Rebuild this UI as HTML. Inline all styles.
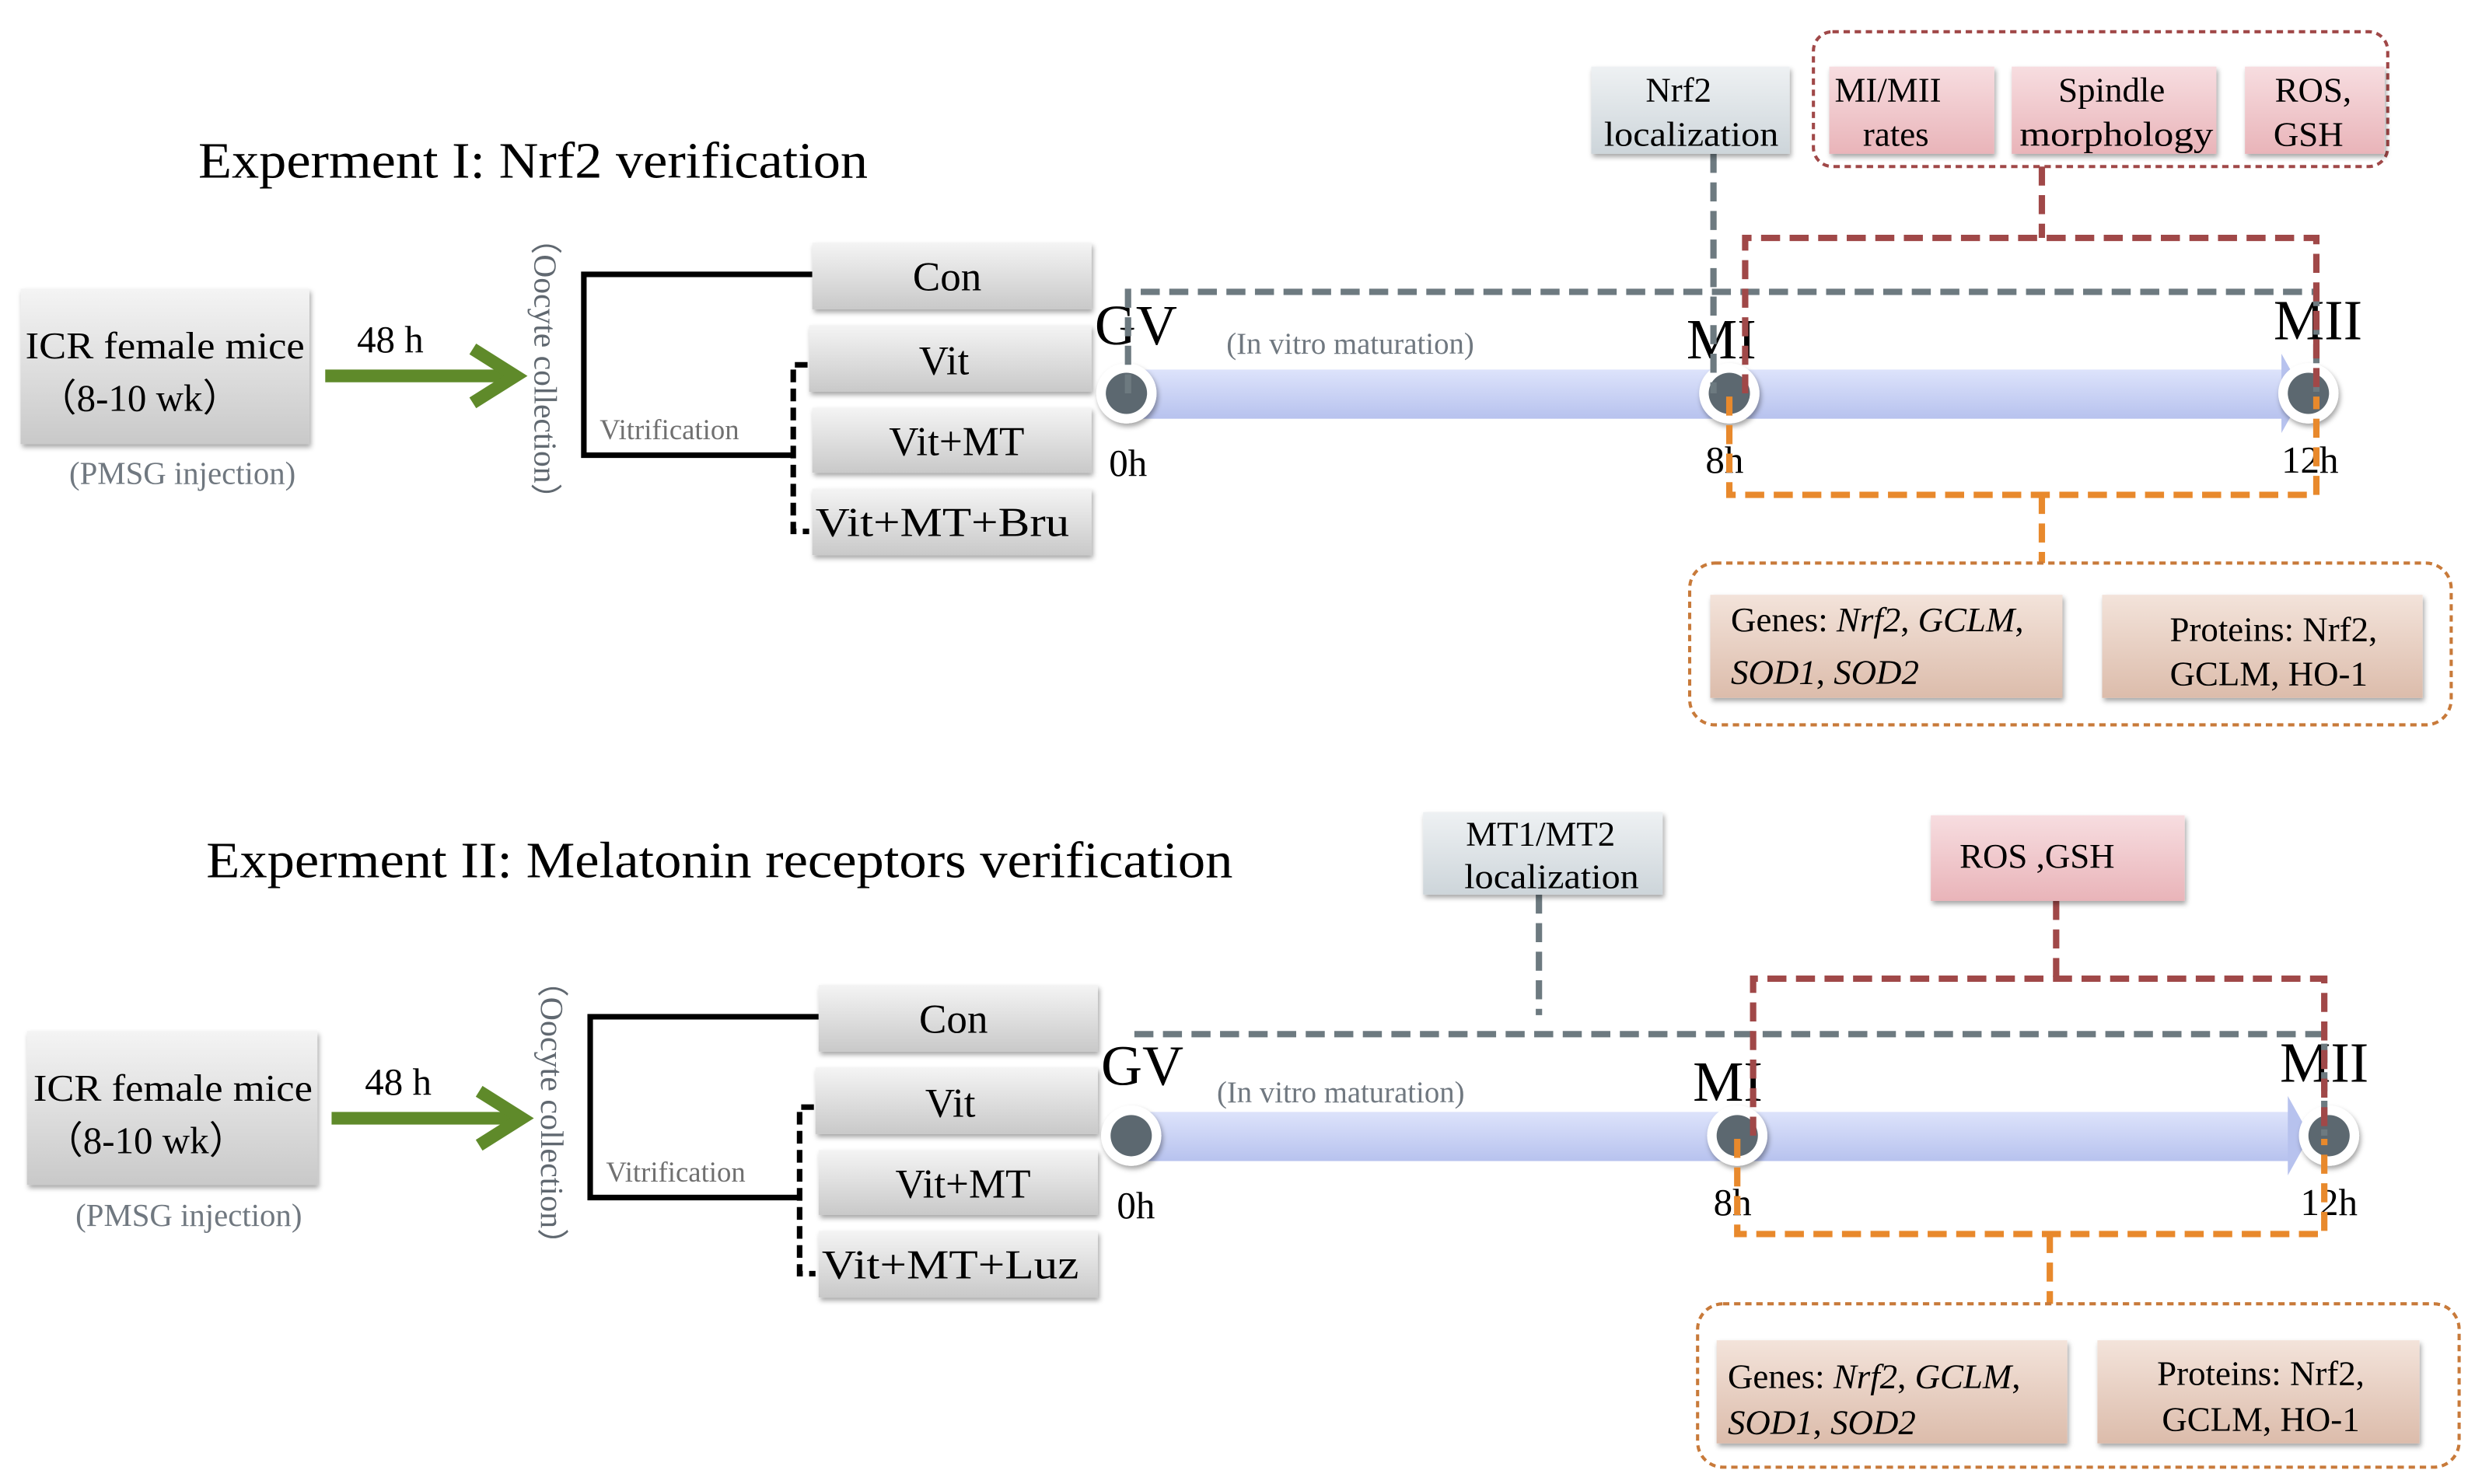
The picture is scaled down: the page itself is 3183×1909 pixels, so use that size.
<!DOCTYPE html>
<html><head><meta charset="utf-8"><style>
html,body{margin:0;padding:0;background:#fff;}
svg{display:block;}
text{font-family:"Liberation Serif",serif;}
</style></head><body>
<svg width="3183" height="1909" viewBox="0 0 1560 935.6" preserveAspectRatio="none" xmlns="http://www.w3.org/2000/svg">
<defs>
<linearGradient id="gg" x1="0" y1="0" x2="0" y2="1"><stop offset="0" stop-color="#f4f4f4"/><stop offset="1" stop-color="#c9c9c9"/></linearGradient>
<linearGradient id="gb" x1="0" y1="0" x2="0" y2="1"><stop offset="0" stop-color="#eef1f3"/><stop offset="1" stop-color="#cdd5da"/></linearGradient>
<linearGradient id="gp" x1="0" y1="0" x2="0" y2="1"><stop offset="0" stop-color="#f7dde0"/><stop offset="1" stop-color="#e9b4b9"/></linearGradient>
<linearGradient id="gt" x1="0" y1="0" x2="0" y2="1"><stop offset="0" stop-color="#f3e3da"/><stop offset="1" stop-color="#dcbcab"/></linearGradient>
<linearGradient id="bar" x1="0" y1="0" x2="0" y2="1"><stop offset="0" stop-color="#dde3fb"/><stop offset="1" stop-color="#b7c2ee"/></linearGradient>
<filter id="sh" x="-10%" y="-10%" width="130%" height="140%"><feDropShadow dx="1" dy="2" stdDeviation="1.5" flood-color="#000" flood-opacity="0.35"/></filter>
</defs>

<!-- ================= Experiment I ================= -->
<text x="125" y="112" font-size="32" textLength="422" lengthAdjust="spacingAndGlyphs">Experment I: Nrf2 verification</text>

<rect x="13" y="182" width="182" height="98" fill="url(#gg)" filter="url(#sh)"/>
<text x="104" y="226" font-size="24" text-anchor="middle" textLength="176" lengthAdjust="spacingAndGlyphs">ICR female mice</text>
<text x="88" y="259" font-size="24" text-anchor="middle">（8-10 wk）</text>
<text x="115" y="305" font-size="20" fill="#707880" text-anchor="middle">(PMSG injection)</text>
<text x="225" y="222" font-size="24">48 h</text>
<line x1="205" y1="237" x2="318" y2="237" stroke="#5f8a2a" stroke-width="8"/>
<polyline points="298,220 325,237 298,254" fill="none" stroke="#5f8a2a" stroke-width="8"/>
<text transform="translate(337,140) rotate(90)" font-size="20" fill="#606870" textLength="185" lengthAdjust="spacingAndGlyphs">（Oocyte collection）</text>

<polyline points="512,173 368,173 368,287 500,287" fill="none" stroke="#000" stroke-width="3.5"/>
<text x="378" y="277" font-size="18" fill="#707070">Vitrification</text>
<polyline points="509,230 500,230 500,335 510,335" fill="none" stroke="#000" stroke-width="3.5" stroke-dasharray="8,4"/>

<rect x="512" y="153" width="176" height="42" fill="url(#gg)" filter="url(#sh)"/>
<text x="597" y="183" font-size="26" text-anchor="middle">Con</text>
<rect x="510" y="205" width="178" height="42" fill="url(#gg)" filter="url(#sh)"/>
<text x="595" y="236" font-size="26" text-anchor="middle">Vit</text>
<rect x="512" y="257" width="176" height="41" fill="url(#gg)" filter="url(#sh)"/>
<text x="603" y="287" font-size="26" text-anchor="middle">Vit+MT</text>
<rect x="512" y="308" width="176" height="42" fill="url(#gg)" filter="url(#sh)"/>
<text x="594" y="338" font-size="26" text-anchor="middle" textLength="160" lengthAdjust="spacingAndGlyphs">Vit+MT+Bru</text>

<!-- timeline -->
<rect x="710" y="233" width="730" height="31" fill="url(#bar)"/>
<polygon points="1438,223 1452,248 1438,273" fill="#b7c2ee"/>
<circle cx="710" cy="248" r="19" fill="#fff" filter="url(#sh)"/><circle cx="710" cy="248" r="13" fill="#5c6870"/>
<circle cx="1090" cy="248" r="19" fill="#fff" filter="url(#sh)"/><circle cx="1090" cy="248" r="13" fill="#5c6870"/>
<circle cx="1455" cy="248" r="19" fill="#fff" filter="url(#sh)"/><circle cx="1455" cy="248" r="13" fill="#5c6870"/>
<text x="690" y="217" font-size="36">GV</text>
<text x="1063" y="226" font-size="36">MI</text>
<text x="1433" y="214" font-size="36">MII</text>
<text x="699" y="300" font-size="24">0h</text>
<text x="1075" y="298" font-size="24">8h</text>
<text x="1438" y="298" font-size="24">12h</text>
<text x="773" y="223" font-size="19" fill="#707880">(In vitro maturation)</text>

<!-- gray dashed -->
<polyline points="711,248 711,184 1460,184 1460,248" fill="none" stroke="#6d7a80" stroke-width="4" stroke-dasharray="12,6"/>
<line x1="1080" y1="97" x2="1080" y2="248" stroke="#6d7a80" stroke-width="4" stroke-dasharray="12,6"/>
<rect x="1003" y="42" width="125" height="55" fill="url(#gb)" filter="url(#sh)"/>
<text x="1058" y="64" font-size="22" text-anchor="middle">Nrf2</text>
<text x="1066" y="92" font-size="22" text-anchor="middle" textLength="110" lengthAdjust="spacingAndGlyphs">localization</text>

<!-- red dashed -->
<polyline points="1100,248 1100,150 1460,150 1460,248" fill="none" stroke="#a04848" stroke-width="4" stroke-dasharray="12,6"/>
<line x1="1287" y1="105" x2="1287" y2="150" stroke="#a04848" stroke-width="4" stroke-dasharray="12,6"/>
<rect x="1143" y="20" width="362" height="85" rx="12" fill="none" stroke="#a04848" stroke-width="2" stroke-dasharray="4,3"/>
<rect x="1153" y="42" width="104" height="55" fill="url(#gp)" filter="url(#sh)"/>
<text x="1190" y="64" font-size="22" text-anchor="middle">MI/MII</text>
<text x="1195" y="92" font-size="22" text-anchor="middle">rates</text>
<rect x="1268" y="42" width="129" height="55" fill="url(#gp)" filter="url(#sh)"/>
<text x="1331" y="64" font-size="22" text-anchor="middle">Spindle</text>
<text x="1334" y="92" font-size="22" text-anchor="middle" textLength="122" lengthAdjust="spacingAndGlyphs">morphology</text>
<rect x="1415" y="42" width="88" height="55" fill="url(#gp)" filter="url(#sh)"/>
<text x="1458" y="64" font-size="22" text-anchor="middle">ROS,</text>
<text x="1455" y="92" font-size="22" text-anchor="middle">GSH</text>

<!-- orange dashed -->
<polyline points="1090,250 1090,312 1460,312 1460,250" fill="none" stroke="#e8892c" stroke-width="4" stroke-dasharray="12,6"/>
<line x1="1287" y1="312" x2="1287" y2="355" stroke="#e8892c" stroke-width="4" stroke-dasharray="12,6"/>
<rect x="1065" y="355" width="480" height="102" rx="16" fill="none" stroke="#c87a3a" stroke-width="2" stroke-dasharray="4,3"/>
<rect x="1078" y="375" width="222" height="65" fill="url(#gt)" filter="url(#sh)"/>
<text x="1091" y="398" font-size="22">Genes: <tspan font-style="italic">Nrf2</tspan>, <tspan font-style="italic">GCLM</tspan>,</text>
<text x="1091" y="431" font-size="22" font-style="italic">SOD1<tspan font-style="normal">, </tspan>SOD2</text>
<rect x="1325" y="375" width="202" height="65" fill="url(#gt)" filter="url(#sh)"/>
<text x="1433" y="404" font-size="22" text-anchor="middle">Proteins: Nrf2,</text>
<text x="1430" y="432" font-size="22" text-anchor="middle">GCLM,  HO-1</text>

<!-- ================= Experiment II ================= -->
<text x="130" y="553" font-size="32" textLength="647" lengthAdjust="spacingAndGlyphs">Experment II: Melatonin receptors verification</text>

<rect x="17" y="650" width="183" height="97" fill="url(#gg)" filter="url(#sh)"/>
<text x="109" y="694" font-size="24" text-anchor="middle" textLength="176" lengthAdjust="spacingAndGlyphs">ICR female mice</text>
<text x="92" y="727" font-size="24" text-anchor="middle">（8-10 wk）</text>
<text x="119" y="773" font-size="20" fill="#707880" text-anchor="middle">(PMSG injection)</text>
<text x="230" y="690" font-size="24">48 h</text>
<line x1="209" y1="705" x2="322" y2="705" stroke="#5f8a2a" stroke-width="8"/>
<polyline points="302,688 329,705 302,722" fill="none" stroke="#5f8a2a" stroke-width="8"/>
<text transform="translate(341,608) rotate(90)" font-size="20" fill="#606870" textLength="187" lengthAdjust="spacingAndGlyphs">（Oocyte collection）</text>

<polyline points="516,641 372,641 372,755 504,755" fill="none" stroke="#000" stroke-width="3.5"/>
<text x="382" y="745" font-size="18" fill="#707070">Vitrification</text>
<polyline points="513,698 504,698 504,803 514,803" fill="none" stroke="#000" stroke-width="3.5" stroke-dasharray="8,4"/>

<rect x="516" y="621" width="176" height="42" fill="url(#gg)" filter="url(#sh)"/>
<text x="601" y="651" font-size="26" text-anchor="middle">Con</text>
<rect x="514" y="673" width="178" height="42" fill="url(#gg)" filter="url(#sh)"/>
<text x="599" y="704" font-size="26" text-anchor="middle">Vit</text>
<rect x="516" y="725" width="176" height="41" fill="url(#gg)" filter="url(#sh)"/>
<text x="607" y="755" font-size="26" text-anchor="middle">Vit+MT</text>
<rect x="516" y="776" width="176" height="42" fill="url(#gg)" filter="url(#sh)"/>
<text x="599" y="806" font-size="26" text-anchor="middle" textLength="162" lengthAdjust="spacingAndGlyphs">Vit+MT+Luz</text>

<rect x="713" y="701" width="731" height="31" fill="url(#bar)"/>
<polygon points="1442,691 1456,716 1442,741" fill="#b7c2ee"/>
<circle cx="713" cy="716" r="19" fill="#fff" filter="url(#sh)"/><circle cx="713" cy="716" r="13" fill="#5c6870"/>
<circle cx="1095" cy="716" r="19" fill="#fff" filter="url(#sh)"/><circle cx="1095" cy="716" r="13" fill="#5c6870"/>
<circle cx="1468" cy="716" r="19" fill="#fff" filter="url(#sh)"/><circle cx="1468" cy="716" r="13" fill="#5c6870"/>
<text x="694" y="684" font-size="36">GV</text>
<text x="1067" y="694" font-size="36">MI</text>
<text x="1437" y="682" font-size="36">MII</text>
<text x="704" y="768" font-size="24">0h</text>
<text x="1080" y="766" font-size="24">8h</text>
<text x="1450" y="766" font-size="24">12h</text>
<text x="767" y="695" font-size="19" fill="#707880">(In vitro maturation)</text>

<polyline points="715,652 1465,652 1465,716" fill="none" stroke="#6d7a80" stroke-width="4" stroke-dasharray="12,6"/>
<line x1="970" y1="564" x2="970" y2="640" stroke="#6d7a80" stroke-width="4" stroke-dasharray="12,6"/>
<rect x="897" y="512" width="151" height="52" fill="url(#gb)" filter="url(#sh)"/>
<text x="971" y="533" font-size="22" text-anchor="middle">MT1/MT2</text>
<text x="978" y="560" font-size="22" text-anchor="middle" textLength="110" lengthAdjust="spacingAndGlyphs">localization</text>

<polyline points="1105,716 1105,617 1465,617 1465,716" fill="none" stroke="#a04848" stroke-width="4" stroke-dasharray="12,6"/>
<line x1="1296" y1="568" x2="1296" y2="617" stroke="#a04848" stroke-width="4" stroke-dasharray="12,6"/>
<rect x="1217" y="514" width="160" height="54" fill="url(#gp)" filter="url(#sh)"/>
<text x="1284" y="547" font-size="22" text-anchor="middle">ROS ,GSH</text>

<polyline points="1095,718 1095,778 1465,778 1465,718" fill="none" stroke="#e8892c" stroke-width="4" stroke-dasharray="12,6"/>
<line x1="1292" y1="778" x2="1292" y2="822" stroke="#e8892c" stroke-width="4" stroke-dasharray="12,6"/>
<rect x="1070" y="822" width="480" height="103" rx="16" fill="none" stroke="#c87a3a" stroke-width="2" stroke-dasharray="4,3"/>
<rect x="1082" y="845" width="221" height="65" fill="url(#gt)" filter="url(#sh)"/>
<text x="1089" y="875" font-size="22">Genes: <tspan font-style="italic">Nrf2</tspan>, <tspan font-style="italic">GCLM</tspan>,</text>
<text x="1089" y="904" font-size="22" font-style="italic">SOD1<tspan font-style="normal">, </tspan>SOD2</text>
<rect x="1322" y="845" width="203" height="65" fill="url(#gt)" filter="url(#sh)"/>
<text x="1425" y="873" font-size="22" text-anchor="middle">Proteins: Nrf2,</text>
<text x="1425" y="902" font-size="22" text-anchor="middle">GCLM,  HO-1</text>
</svg>
</body></html>
